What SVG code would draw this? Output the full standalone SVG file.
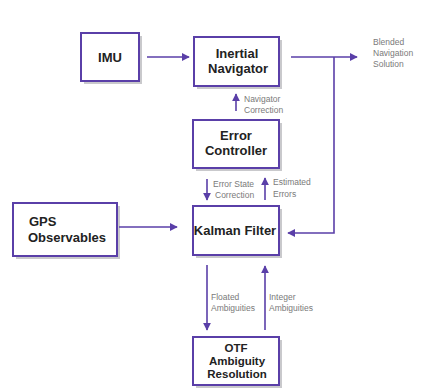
<svg xmlns="http://www.w3.org/2000/svg" width="421" height="390" viewBox="0 0 421 390">
<style>
.box{fill:#fff;stroke:#5a3fa8;stroke-width:2}
.sh{fill:#c9c9cc}
.t{font-family:"Liberation Sans",Arial,sans-serif;font-weight:bold;font-size:13px;fill:#222;text-anchor:middle}
.ts{font-family:"Liberation Sans",Arial,sans-serif;font-weight:bold;font-size:11.5px;fill:#222;text-anchor:middle}
.tl{font-family:"Liberation Sans",Arial,sans-serif;font-weight:bold;font-size:13px;fill:#222}
.lb{font-family:"Liberation Sans",Arial,sans-serif;font-size:8.5px;fill:#7a7a7a}
.ln{fill:none;stroke:#5a3fa8;stroke-width:1.6}
</style>
<defs>
<marker id="ah" viewBox="0 0 10 10" refX="9" refY="5" markerWidth="5" markerHeight="5" orient="auto" markerUnits="strokeWidth">
<path d="M0,0 L10,5 L0,10 z" fill="#5a3fa8"/>
</marker>
</defs>
<rect width="421" height="390" fill="#fff"/>
<g id="imu">
<rect class="sh" x="84" y="36" width="58" height="48"/>
<rect class="box" x="81" y="33" width="58" height="48"/>
<text class="t" x="110" y="62">IMU</text>
</g>
<g id="inertial-navigator">
<rect class="sh" x="197" y="40" width="85" height="49"/>
<rect class="box" x="194" y="37" width="85" height="49"/>
<text class="t" x="237" y="58">Inertial</text>
<text class="t" x="238" y="73">Navigator</text>
</g>
<g id="error-controller">
<rect class="sh" x="196" y="123" width="86" height="48"/>
<rect class="box" x="193" y="120" width="86" height="48"/>
<text class="t" x="236" y="140">Error</text>
<text class="t" x="236" y="155">Controller</text>
</g>
<g id="kalman-filter">
<rect class="sh" x="196" y="209" width="86" height="49"/>
<rect class="box" x="193" y="206" width="86" height="49"/>
<text class="t" x="235" y="235">Kalman Filter</text>
</g>
<g id="gps-observables">
<rect class="sh" x="16" y="206" width="104" height="53"/>
<rect class="box" x="13" y="203" width="104" height="53"/>
<text class="tl" x="29" y="226">GPS</text>
<text class="tl" x="28" y="242">Observables</text>
</g>
<g id="otf">
<rect class="sh" x="196" y="340" width="86" height="48"/>
<rect class="box" x="193" y="337" width="86" height="48"/>
<text class="ts" x="236" y="352">OTF</text>
<text class="ts" x="237" y="365">Ambiguity</text>
<text class="ts" x="237" y="378">Resolution</text>
</g>
<g id="connectors">
<line class="ln" x1="147" y1="57" x2="189" y2="57" marker-end="url(#ah)"/>
<line class="ln" x1="291" y1="57" x2="357" y2="57" marker-end="url(#ah)"/>
<polyline class="ln" points="334,57 334,233 288,233" marker-end="url(#ah)"/>
<line class="ln" x1="236" y1="111" x2="236" y2="94" marker-end="url(#ah)"/>
<line class="ln" x1="207" y1="179" x2="207" y2="200" marker-end="url(#ah)"/>
<line class="ln" x1="265" y1="200" x2="265" y2="178" marker-end="url(#ah)"/>
<line class="ln" x1="119" y1="227" x2="177" y2="227" marker-end="url(#ah)"/>
<line class="ln" x1="207" y1="265" x2="207" y2="330" marker-end="url(#ah)"/>
<line class="ln" x1="265" y1="330" x2="265" y2="266" marker-end="url(#ah)"/>
</g>
<g id="labels">
<text class="lb" x="373" y="45">Blended</text>
<text class="lb" x="373" y="56">Navigation</text>
<text class="lb" x="373" y="67">Solution</text>
<text class="lb" x="244" y="102">Navigator</text>
<text class="lb" x="244" y="113">Correction</text>
<text class="lb" x="213" y="187">Error State</text>
<text class="lb" x="215" y="198">Correction</text>
<text class="lb" x="273" y="185">Estimated</text>
<text class="lb" x="273" y="197">Errors</text>
<text class="lb" x="211" y="300">Floated</text>
<text class="lb" x="211" y="311">Ambiguities</text>
<text class="lb" x="269" y="300">Integer</text>
<text class="lb" x="269" y="311">Ambiguities</text>
</g>
</svg>
